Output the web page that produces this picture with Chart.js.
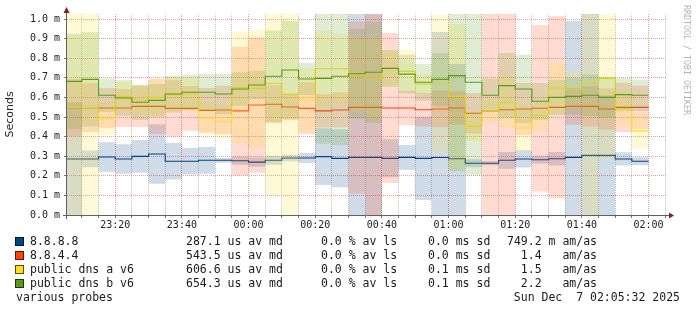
<!DOCTYPE html>
<html>
<head>
<meta charset="utf-8">
<script src="https://cdn.jsdelivr.net/npm/chart.js@4/dist/chart.umd.min.js"></script>
<style>
  html, body { margin: 0; padding: 0; background: #fff; }
  #wrap { position: relative; width: 697px; height: 311px; overflow: hidden; }
  #c { position: absolute; left: 0; top: 0; }
  .lg { position: absolute; font: 11.5px "DejaVu Sans Mono", monospace; color: #1a1a1a; white-space: pre; line-height: 14px; }
  .sw { position: absolute; width: 7px; height: 7px; border: 1px solid rgba(0,0,0,0.65); }
  .credit { position: absolute; left: 682px; top: 5px; font: 8.3px "DejaVu Sans Mono", monospace; color: #b4b4b4; writing-mode: vertical-rl; white-space: pre; }
</style>
</head>
<body>
<div id="wrap">
  <canvas id="c" width="697" height="311"></canvas>
  <div id="legend"></div>
  <div class="credit">RRDTOOL / TOBI OETIKER</div>
</div>
<script>
// 5 minute steps, smokeping "various probes" multi host graph
const binStarts = [
  '23:05', '23:10', '23:15', '23:20', '23:25', '23:30', '23:35', '23:40', '23:45', '23:50', '23:55',
  '00:00', '00:05', '00:10', '00:15', '00:20', '00:25', '00:30', '00:35', '00:40', '00:45', '00:50', '00:55',
  '01:00', '01:05', '01:10', '01:15', '01:20', '01:25', '01:30', '01:35', '01:40', '01:45', '01:50', '01:55'
];
const endTime = '02:00';
const axisStart = '23:05:32';
const axisEnd = '02:05:32';
const timeTicks = ['23:20', '23:40', '00:00', '00:20', '00:40', '01:00', '01:20', '01:40', '02:00'];
const yTicks = [0, 0.1, 0.2, 0.3, 0.4, 0.5, 0.6, 0.7, 0.8, 0.9, 1.0];

const hosts = ['8.8.8.8', '8.8.4.4', 'public dns a v6', 'public dns b v6'];
const hostColors = ['#004586', '#ff420e', '#ffde20', '#579d1c'];

// median rtt per step (ms)
const median8888 = [0.286, 0.286, 0.296, 0.286, 0.299, 0.311, 0.274, 0.274, 0.279, 0.279, 0.277, 0.270, 0.279, 0.291, 0.291, 0.298, 0.289, 0.294, 0.294, 0.289, 0.294, 0.289, 0.293, 0.287, 0.264, 0.264, 0.279, 0.286, 0.282, 0.287, 0.294, 0.304, 0.304, 0.286, 0.274];
const median8844 = [0.548, 0.548, 0.546, 0.546, 0.554, 0.554, 0.544, 0.544, 0.534, 0.536, 0.531, 0.561, 0.565, 0.551, 0.544, 0.531, 0.536, 0.549, 0.549, 0.546, 0.546, 0.537, 0.541, 0.546, 0.519, 0.529, 0.537, 0.541, 0.545, 0.549, 0.554, 0.554, 0.541, 0.549, 0.549];
const medianA6 = [0.549, 0.549, 0.490, 0.605, 0.587, 0.600, 0.614, 0.617, 0.495, 0.476, 0.651, 0.646, 0.672, 0.616, 0.587, 0.746, 0.746, 0.716, 0.699, 0.748, 0.733, 0.668, 0.670, 0.605, 0.452, 0.529, 0.575, 0.444, 0.509, 0.648, 0.639, 0.672, 0.697, 0.543, 0.429];
const medianB6 = [0.682, 0.692, 0.611, 0.597, 0.575, 0.585, 0.617, 0.626, 0.626, 0.617, 0.643, 0.663, 0.708, 0.740, 0.694, 0.697, 0.708, 0.721, 0.728, 0.748, 0.719, 0.677, 0.692, 0.711, 0.677, 0.611, 0.660, 0.643, 0.580, 0.600, 0.605, 0.611, 0.600, 0.614, 0.611];

// std deviation per step (ms), smoke band = median +- sdev/2
const sdev8888 = [0.578, 0.085, 0.150, 0.150, 0.167, 0.303, 0.187, 0.136, 0.136, 0.024, 0.041, 0.048, 0.044, 0.034, 0.051, 0.289, 0.296, 1.497, 1.497, 0.194, 0.126, 0.425, 1.282, 0.966, 0.041, 0.020, 0.085, 0.088, 0.041, 0.068, 1.395, 1.497, 0.612, 0.068, 0.041];
const sdev8844 = [0.293, 0.248, 0.204, 0.194, 0.211, 0.282, 0.286, 0.228, 0.228, 0.248, 0.656, 0.690, 0.194, 0.136, 0.265, 0.170, 0.180, 0.878, 1.122, 0.765, 0.177, 0.170, 0.187, 0.170, 0.207, 1.088, 1.088, 0.265, 0.850, 0.929, 0.187, 0.204, 0.211, 0.252, 0.221];
const sdevA6 = [1.122, 1.122, 0.170, 0.153, 0.153, 0.190, 0.170, 0.170, 0.170, 0.167, 0.571, 0.602, 1.139, 1.259, 0.323, 0.388, 0.357, 0.374, 0.408, 0.170, 0.221, 0.102, 0.704, 0.738, 0.146, 0.119, 0.262, 0.238, 0.153, 0.255, 0.187, 1.361, 0.813, 0.180, 0.180];
const sdevB6 = [0.483, 0.480, 0.170, 0.180, 0.180, 0.167, 0.187, 0.180, 0.190, 0.207, 0.170, 0.146, 0.466, 0.500, 0.163, 0.667, 0.704, 0.459, 0.517, 0.187, 0.197, 0.187, 0.269, 0.976, 0.949, 0.170, 0.333, 0.350, 0.187, 0.180, 0.187, 0.211, 0.211, 0.170, 0.160];

// legend columns
const legMd = ['287.1 us av md', '543.5 us av md', '606.6 us av md', '654.3 us av md'];
const legLs = ['0.0 % av ls', '0.0 % av ls', '0.0 % av ls', '0.0 % av ls'];
const legSd = ['0.0 ms sd', '0.0 ms sd', '0.1 ms sd', '0.1 ms sd'];
const legAs = ['749.2 m am/as', '  1.4   am/as', '  1.5   am/as', '  2.2   am/as'];
const footLeft = 'various probes';
const footRight = 'Sun Dec  7 02:05:32 2025';

const medians = [median8888, median8844, medianA6, medianB6];
const sdevs = [sdev8888, sdev8844, sdevA6, sdevB6];

// minutes since 23:00
function toMin(t) {
  const p = t.split(':').map(Number);
  const h = p[0] >= 12 ? p[0] - 23 : p[0] + 1;
  return h * 60 + p[1] + (p[2] || 0) / 60;
}
function fmtMin(v) {
  const tot = Math.round(v) + 23 * 60;
  const h = Math.floor(tot / 60) % 24, m = tot % 60;
  return String(h).padStart(2, '0') + ':' + String(m).padStart(2, '0');
}
function alpha(hex, a) {
  const n = parseInt(hex.slice(1), 16);
  return `rgba(${(n >> 16) & 255},${(n >> 8) & 255},${n & 255},${a})`;
}

const stepX = binStarts.concat([endTime]).map(toMin);
const majorMin = timeTicks.map(toMin);
const pts = (arr) => stepX.map((x, k) => ({ x, y: arr[Math.min(k, arr.length - 1)] }));

const datasets = [];
let order = 100;
hosts.forEach((name, i) => {
  const med = medians[i], sd = sdevs[i], col = hostColors[i];
  const lo = med.map((m, k) => Math.max(0, m - sd[k] / 2));
  const hi = med.map((m, k) => m + sd[k] / 2);
  // 'before' keeps each value until the next step time
  const base = { pointRadius: 0, stepped: 'before', borderJoinStyle: 'miter' };
  datasets.push({ ...base, label: name + ' low', data: pts(lo), borderWidth: 0, borderColor: 'transparent', fill: false, order: order-- });
  datasets.push({ ...base, label: name + ' smoke', data: pts(hi), borderWidth: 0, borderColor: 'transparent', backgroundColor: alpha(col, 48 / 255), fill: '-1', order: order-- });
  datasets.push({ ...base, label: name, data: pts(med), borderWidth: 1.1, borderColor: col, fill: false, order: order-- });
});

const rrdAxes = {
  id: 'rrdAxes',
  afterDraw(chart) {
    const { ctx, chartArea: a } = chart;
    const x0 = a.left - 0.5, y0 = a.bottom + 0.5;
    ctx.save();
    ctx.strokeStyle = '#606060';
    ctx.lineWidth = 1;
    ctx.beginPath();
    ctx.moveTo(a.left - 4, y0); ctx.lineTo(a.right + 3, y0);
    ctx.moveTo(x0, a.bottom + 4); ctx.lineTo(x0, a.top - 2);
    ctx.stroke();
    ctx.fillStyle = '#8a1c1c';
    ctx.beginPath();
    ctx.moveTo(x0, a.top - 7); ctx.lineTo(x0 - 3, a.top - 1); ctx.lineTo(x0 + 3, a.top - 1); ctx.closePath();
    ctx.fill();
    ctx.beginPath();
    ctx.moveTo(a.right + 7, y0); ctx.lineTo(a.right + 2, y0 - 3); ctx.lineTo(a.right + 2, y0 + 3); ctx.closePath();
    ctx.fill();
    ctx.restore();
  }
};

const majorGrid = 'rgba(222,70,70,0.55)';
const minorGrid = 'rgba(120,120,120,0.42)';
const tickFont = { family: '"DejaVu Sans Mono", monospace', size: 10 };

new Chart(document.getElementById('c'), {
  type: 'line',
  data: { datasets },
  options: {
    responsive: false,
    animation: false,
    devicePixelRatio: 1,
    layout: { padding: { left: 0, top: 14, right: 30, bottom: 76 } },
    plugins: { legend: { display: false }, tooltip: { enabled: false } },
    scales: {
      x: {
        type: 'linear',
        min: toMin(axisStart),
        max: toMin(axisEnd),
        afterBuildTicks: (s) => {
          const t = [];
          for (let m = 10; m <= s.max; m += 5) t.push({ value: m });
          s.ticks = t;
        },
        afterFit: (s) => { s.height = 20; },
        ticks: {
          autoSkip: false, maxRotation: 0, padding: 1, color: '#222', font: tickFont,
          callback: (v) => (majorMin.includes(v) ? fmtMin(v) : '')
        },
        grid: {
          color: (c) => (c.tick && majorMin.includes(c.tick.value) ? majorGrid : minorGrid),
          lineWidth: 1, tickLength: 3, tickColor: '#777', tickBorderDash: []
        },
        border: { display: false, dash: [1, 1] }
      },
      y: {
        min: 0,
        max: 201 / 196,
        afterBuildTicks: (s) => { s.ticks = yTicks.map((v) => ({ value: v })); },
        afterFit: (s) => { s.width = 67; },
        ticks: {
          padding: 4, color: '#222', font: tickFont,
          callback: (v) => v.toFixed(1) + ' m'
        },
        grid: { color: majorGrid, lineWidth: 1, tickLength: 3, tickColor: '#777', tickBorderDash: [] },
        border: { display: false, dash: [1, 1] },
        title: {
          display: true, text: 'Seconds', color: '#222',
          font: { family: '"DejaVu Sans", sans-serif', size: 11 },
          padding: { top: 4, bottom: 0 }
        }
      }
    }
  },
  plugins: [rrdAxes]
});

// legend below the plot
const legend = document.getElementById('legend');
const rowMid = [241, 255, 269, 283];
function addText(txt, left, mid, right) {
  const d = document.createElement('div');
  d.className = 'lg';
  d.textContent = txt;
  d.style.top = (mid - 7) + 'px';
  if (right !== undefined) d.style.right = right + 'px'; else d.style.left = left + 'px';
  legend.appendChild(d);
}
hosts.forEach((name, i) => {
  const sw = document.createElement('div');
  sw.className = 'sw';
  sw.style.left = '15px';
  sw.style.top = (rowMid[i] - 4) + 'px';
  sw.style.background = hostColors[i];
  legend.appendChild(sw);
  addText(name, 30, rowMid[i]);
  addText(legMd[i], 186, rowMid[i]);
  addText(legLs[i], 321, rowMid[i]);
  addText(legSd[i], 428, rowMid[i]);
  addText(legAs[i], 507, rowMid[i]);
});
addText(footLeft, 16, 297);
addText(footRight, 0, 297, 17);
</script>
</body>
</html>
